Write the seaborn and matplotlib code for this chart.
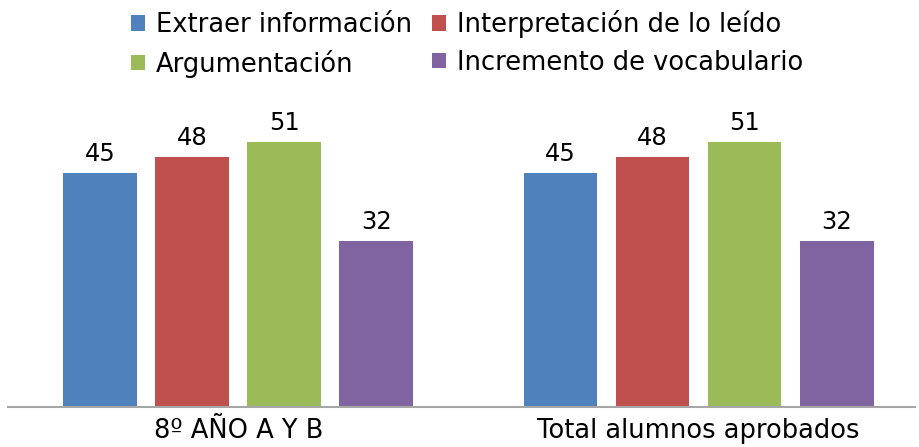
import pandas as pd
import matplotlib
matplotlib.use("Agg")
import matplotlib.pyplot as plt
import seaborn as sns

# datos
grupos = ["8º AÑO A Y B", "Total alumnos aprobados"]
series = ["Extraer información", "Interpretación de lo leído",
          "Argumentación", "Incremento de vocabulario"]
valores = {
    "Extraer información": [45, 45],
    "Interpretación de lo leído": [48, 48],
    "Argumentación": [51, 51],
    "Incremento de vocabulario": [32, 32],
}
colores = ["#4F81BD", "#C0504D", "#9BBB59", "#8064A2"]

rows = []
for s in series:
    for g, v in zip(grupos, valores[s]):
        rows.append({"grupo": g, "serie": s, "valor": v})
df = pd.DataFrame(rows)

sns.set_style("white")
plt.rcParams['font.family'] = ['DejaVu Sans']
plt.rcParams['text.color'] = 'black'
plt.rcParams['xtick.color'] = 'black'

fig = plt.figure(figsize=(9.19, 4.47), dpi=100)
ax = fig.add_axes([8 / 919, 40 / 447, 907 / 919, 312 / 447])

sns.barplot(data=df, x="grupo", y="valor", hue="serie", order=grupos,
            hue_order=series, palette=colores, width=0.8, gap=0.2,
            saturation=1, linewidth=0, ax=ax, legend=True)

for c in ax.containers:
    ax.bar_label(c, padding=5, fontsize=17.5, color="black")

ax.set_ylim(0, 60)
ax.set_xlim(-0.5, 1.47)
ax.set_xlabel("")
ax.set_ylabel("")
ax.set_yticks([])
ax.tick_params(axis="x", length=0, labelsize=18.5, pad=8, labelcolor="black")
for side in ["top", "left", "right"]:
    ax.spines[side].set_visible(False)
ax.spines["bottom"].set_color("#A6A6A6")
ax.spines["bottom"].set_linewidth(1.5)

# leyenda en filas: reordenar para ncol=2
handles, labels = ax.get_legend_handles_labels()
orden = [0, 2, 1, 3]
ax.legend([handles[i] for i in orden], [labels[i] for i in orden],
          ncol=2, loc="upper center", bbox_to_anchor=(467 / 919, 1.0),
          bbox_transform=fig.transFigure, frameon=False, fontsize=18.5,
          handlelength=0.55, handleheight=0.55, handletextpad=0.4,
          columnspacing=0.8, labelspacing=0.45, borderpad=0.1,
          borderaxespad=0.3)

fig.savefig("out.png", dpi=100)
